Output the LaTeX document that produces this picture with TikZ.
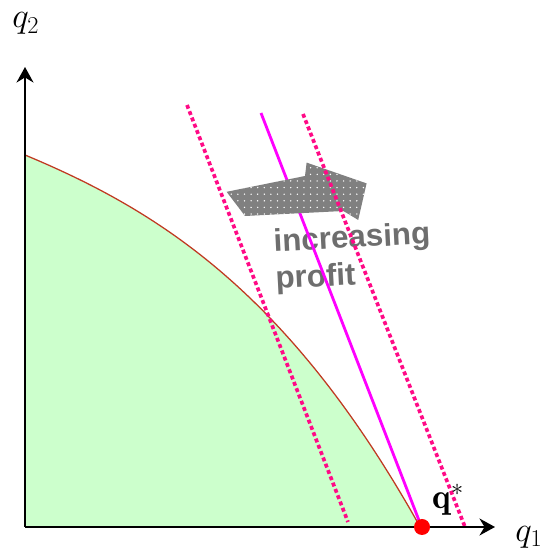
\documentclass[tikz,border=0pt]{standalone}
\usepackage{amsmath}
\usepackage{fontspec}
\usepackage{tikz}
\usepackage{xcolor}
\usetikzlibrary{arrows.meta,patterns.meta}

\newfontfamily\profitfont{Liberation Sans}

\definecolor{feasgreen}{HTML}{CCFFCC}
\definecolor{frontred}{HTML}{C03A22}
\definecolor{isopink}{HTML}{FF0A86}
\definecolor{isomagenta}{HTML}{FF00FF}
\definecolor{arrowgray}{HTML}{808080}
\definecolor{textgray}{HTML}{6E6E6E}

\begin{document}
\begin{tikzpicture}[>={Stealth[length=11pt,width=12pt]}]
  \useasboundingbox (-0.625,-0.6) rectangle (13.175,13.175);

  % feasible region and its frontier
  \fill[feasgreen] (0,0) -- (0,9.3)
    -- plot[domain=0:9.875,samples=80] (\x,{9.3-0.4173*\x-0.02004*\x*\x-0.003348*\x*\x*\x})
    -- cycle;
  \draw[frontred,line width=0.9pt]
    plot[domain=0:9.875,samples=80] (\x,{9.3-0.4173*\x-0.02004*\x*\x-0.003348*\x*\x*\x});

  % label of the big arrow
  \node[textgray,align=left,rotate=3,font=\profitfont\bfseries\fontsize{22.3}{26.5}\selectfont]
    (profit) at (8.2,6.72) {increasing\\profit};

  % isoprofit line through the optimum
  \coordinate (opttop) at (5.9,10.35);
  \coordinate (optbot) at (9.875,0.1);
  \draw[isomagenta,line width=2pt] (opttop) -- (optbot);

  % big shaded arrow
  \path[fill=arrowgray] (5.04,8.38) -- (7.0,8.775) -- (7.04,9.11) -- (8.54,8.59)
    -- (8.33,7.675) -- (7.96,7.9) -- (5.5,7.775) -- cycle;
  \path[pattern={Dots[distance=4.7pt,radius=0.55pt]},pattern color=white]
    (5.04,8.38) -- (7.0,8.775) -- (7.04,9.11) -- (8.54,8.59)
    -- (8.33,7.675) -- (7.96,7.9) -- (5.5,7.775) -- cycle;

  % the other two isoprofit lines
  \coordinate (lowtop) at (4.05,10.55);
  \coordinate (lowbot) at (8.075,0.125);
  \coordinate (hightop) at (6.95,10.325);
  \coordinate (highbot) at (11.0,0);
  \draw[isopink,line width=2.6pt,dash pattern=on 2.8pt off 2pt] (lowtop) -- (lowbot);
  \draw[isopink,line width=2.6pt,dash pattern=on 2.8pt off 2pt] (hightop) -- (highbot);

  % axes
  \coordinate (O) at (0,0);
  \coordinate (xend) at (11.75,0);
  \coordinate (yend) at (0,11.5);
  \draw[->,line width=2pt] (O) -- (xend);
  \draw[->,line width=2pt] (O) -- (yend);
  \node (q1) at (12.6,-0.25) {\fontsize{23}{28}\selectfont $q_1$};
  \node (q2) at (0.02,12.58) {\fontsize{23}{28}\selectfont $q_2$};

  % optimum
  \fill[red] (9.925,0) circle (0.2);
  \node (qstar) at (10.58,0.68) {\fontsize{25}{30}\selectfont $\mathbf{q}^*$};
\end{tikzpicture}
\end{document}
